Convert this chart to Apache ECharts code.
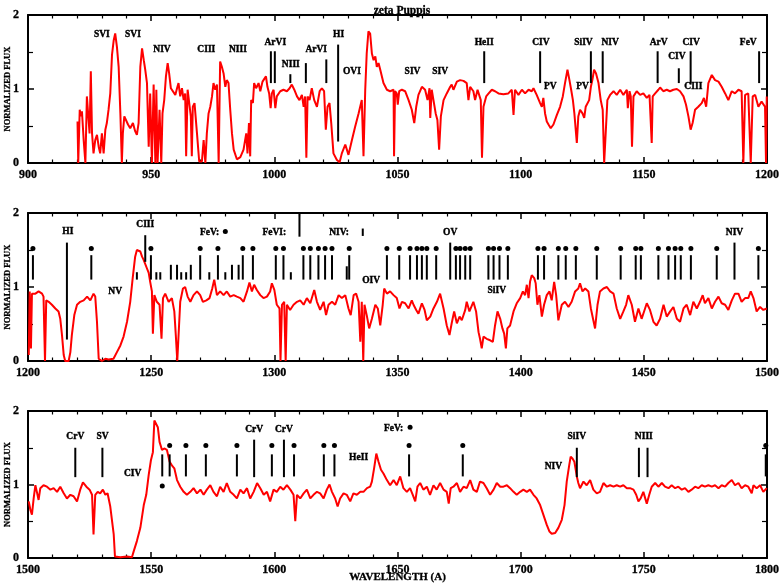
<!DOCTYPE html>
<html><head><meta charset="utf-8">
<script src="https://cdn.jsdelivr.net/npm/echarts@6/dist/echarts.min.js"></script>
<style>html,body{margin:0;padding:0;background:#fff}#c{width:780px;height:588px}</style>
</head><body><div id="c"></div>
<script>
// ---------- spectra: [wavelength (A), normalized flux] ----------
const spec1 = [[920.1,0.56],[920.4,0],[921.0,0.72],[921.5,0.63],[921.9,0.70],[922.6,0.31],[923.3,0],[923.9,0.90],[924.6,0.92],[925.0,0.40],[925.5,1.24],[926.0,0.40],[926.6,0.13],[927.3,0.31],[928.0,0.38],[928.7,0.22],[929.3,0.13],[930.0,0.40],[930.7,0.13],[931.4,0.45],[932.0,0.54],[932.7,0.72],[933.4,0.94],[934.1,1.46],[934.8,1.66],[935.4,1.75],[936.1,1.57],[936.8,1.30],[937.5,0.67],[938.1,0],[938.5,0.40],[939.1,0.63],[939.9,0.65],[940.6,0.52],[941.5,0.47],[942.6,0.54],[943.5,0.43],[944.2,0.38],[944.9,0.54],[945.6,1.30],[946.3,1.55],[947.0,1.39],[947.6,1.26],[948.3,1.08],[949.0,0.22],[949.6,0.94],[950.3,0],[951.0,1.06],[951.7,0],[952.1,0.99],[952.6,0],[953.4,0.72],[954.1,0],[954.6,0.67],[955.3,0.85],[956.0,1.17],[956.7,1.35],[957.3,1.21],[958.0,1.01],[958.8,0.99],[959.8,0.92],[960.5,1.01],[961.1,1.08],[961.8,0.90],[962.5,1.01],[963.2,0.85],[963.8,0.94],[964.2,0.09],[964.8,0.99],[965.6,1.01],[966.1,0.63],[966.5,0.09],[966.9,0.76],[967.6,0.81],[968.6,0.40],[969.5,0.02],[970.6,0.02],[971.3,0.31],[972.0,0],[972.6,0.40],[973.3,0.67],[974.0,0.76],[974.7,0.90],[975.3,1.08],[976.0,0.99],[976.7,1.06],[977.4,0],[978.0,1.37],[978.7,1.30],[979.4,1.21],[980.1,1.03],[980.7,1.12],[981.4,1.08],[982.1,0.72],[982.8,0.40],[983.5,0.18],[984.8,0.05],[986.2,0.08],[987.5,0.18],[988.6,0.40],[989.1,0.13],[989.7,0.54],[990.2,0.09],[990.6,0.85],[991.3,0.81],[991.8,1.08],[992.6,1.01],[993.6,1.08],[994.3,0.97],[995.2,1.10],[996.0,1.12],[996.6,1.17],[997.2,1.03],[997.9,0.94],[998.5,0.74],[999.0,0.94],[999.7,0.99],[1000.4,0.74],[1001.0,0.90],[1002.4,0.97],[1003.7,0.99],[1005.1,0.97],[1006.2,1.01],[1007.1,1.06],[1008.1,0.99],[1009.2,0.90],[1010.2,0.85],[1011.2,0.92],[1011.9,0.76],[1012.5,0.90],[1013.0,0.07],[1013.5,0.90],[1014.3,0.85],[1015.2,1.01],[1016.2,0.85],[1017.3,0.76],[1018.4,0.97],[1019.3,1.01],[1020.2,0.97],[1020.9,0.45],[1021.6,0.76],[1022.4,0.81],[1023.1,0.54],[1024.0,0.13],[1025.4,0.04],[1026.5,0.01],[1027.4,0.13],[1028.8,0.25],[1030.1,0.11],[1031.5,0.31],[1032.8,0.49],[1034.2,0.67],[1035.5,0.85],[1036.2,0.09],[1036.9,0.99],[1037.5,1.48],[1038.2,1.78],[1038.9,1.75],[1039.6,1.48],[1040.3,1.39],[1041.0,1.44],[1041.6,1.30],[1042.3,1.35],[1043.0,1.26],[1044.3,1.08],[1045.7,0.99],[1047.0,0.97],[1048.4,0.99],[1048.6,0.09],[1049.0,0.97],[1049.7,0.94],[1050.1,0.79],[1050.7,0.97],[1051.8,0.99],[1053.1,0.97],[1054.5,0.85],[1055.8,0.72],[1056.8,0.54],[1057.6,0.76],[1058.5,0.92],[1059.9,1.03],[1061.2,0.99],[1062.2,0.85],[1063.0,1.01],[1063.3,0.61],[1063.9,0.99],[1064.6,0.85],[1065.5,0.67],[1066.2,0.58],[1066.9,0.18],[1067.6,0.63],[1068.7,0.85],[1070.0,0.94],[1071.4,1.03],[1072.0,1.06],[1072.7,0.99],[1074.1,1.10],[1075.4,1.12],[1076.8,1.11],[1078.1,1.08],[1078.8,0.85],[1079.5,1.03],[1080.8,0.97],[1081.5,0.85],[1082.5,0.99],[1083.1,1.01],[1083.8,0.85],[1084.3,0.07],[1084.9,0.76],[1086.0,0.90],[1087.0,0.94],[1088.3,0.99],[1089.6,0.97],[1091.0,0.94],[1093.0,0.93],[1095.0,0.94],[1096.4,0.99],[1097.1,0.65],[1097.7,0.99],[1099.1,0.92],[1100.5,0.99],[1101.8,0.94],[1103.2,0.99],[1104.5,0.97],[1105.2,1.01],[1106.5,0.92],[1107.2,0.94],[1107.9,0.81],[1108.6,0.76],[1109.2,0.88],[1109.9,0.67],[1110.6,0.56],[1111.3,0.52],[1112.2,0.47],[1113.3,0.52],[1114.7,0.65],[1116.0,0.76],[1117.1,0.90],[1118.0,1.08],[1119.0,1.26],[1119.8,1.12],[1120.5,0.99],[1121.2,0.85],[1121.8,0.67],[1122.8,0.27],[1123.4,0.63],[1124.1,0.72],[1125.1,0.67],[1125.8,0.61],[1126.4,0.76],[1127.1,0.74],[1127.8,0.85],[1128.5,1.03],[1129.1,1.12],[1129.8,1.26],[1130.6,1.21],[1131.6,1.08],[1132.5,0.85],[1133.3,0.72],[1133.9,0],[1134.7,0],[1135.2,0.85],[1136.3,0.92],[1137.7,0.97],[1139.0,0.92],[1140.4,0.99],[1141.7,0.92],[1143.1,0.99],[1143.5,0.74],[1144.2,0.97],[1144.7,0.90],[1145.2,0.22],[1145.8,0.90],[1147.1,0.97],[1148.5,0.92],[1149.8,0.94],[1151.2,0.88],[1152.3,0.92],[1153.2,0.27],[1153.6,0.90],[1154.6,0.94],[1155.9,0.99],[1156.6,1.02],[1157.9,0.97],[1159.3,0.99],[1160.6,0.97],[1162.0,0.99],[1163.4,1.00],[1164.7,0.97],[1166.1,0.90],[1167.1,0.79],[1168.1,0.63],[1169.0,0.45],[1169.8,0.54],[1170.8,0.72],[1172.1,0.76],[1173.5,0.81],[1174.4,0.88],[1175.3,0.76],[1176.2,1.08],[1177.6,1.19],[1178.9,1.12],[1180.3,1.10],[1181.6,1.03],[1183.0,0.94],[1184.3,0.85],[1185.7,0.97],[1187.0,0.94],[1188.4,0.99],[1189.7,0.97],[1190.4,0],[1191.1,0.92],[1192.4,0.94],[1193.4,0],[1194.2,0.90],[1195.2,0.92],[1196.5,0.76],[1197.8,0.83],[1199.2,0.76],[1199.6,0],[1199.9,0.90]];

const spec2 = [[1200.3,0.08],[1200.7,0.94],[1201.2,0.17],[1201.6,0.91],[1203.0,0.91],[1204.3,0.94],[1205.7,0.91],[1206.3,0.87],[1206.9,0],[1207.4,0.82],[1208.4,0.80],[1209.7,0.76],[1211.1,0.71],[1212.4,0.67],[1213.1,0.57],[1213.8,0.35],[1214.5,0.08],[1215.1,0],[1216.5,0],[1217.2,0.12],[1217.8,0.35],[1218.8,0.62],[1219.9,0.76],[1221.2,0.80],[1222.6,0.82],[1224.0,0.87],[1225.3,0.82],[1226.6,0.91],[1227.3,0.87],[1228.0,0.53],[1228.7,0.03],[1230.0,0],[1231.4,0.03],[1232.7,0.02],[1234.7,0.03],[1236.1,0.12],[1237.5,0.21],[1238.8,0.33],[1240.2,0.53],[1241.5,0.80],[1242.5,1.12],[1243.5,1.41],[1244.2,1.50],[1245.6,1.48],[1246.3,1.41],[1246.9,1.37],[1248.3,1.25],[1249.0,1.19],[1249.6,1.07],[1250.3,0.94],[1250.7,0.37],[1251.3,0.89],[1252.3,0.80],[1253.4,0.76],[1254.2,0.30],[1254.8,0.85],[1255.7,0.91],[1257.1,0.80],[1258.4,0.85],[1259.4,0.67],[1260.0,0.35],[1260.6,0],[1261.1,0],[1261.8,0.80],[1262.9,0.98],[1263.8,1.00],[1264.8,0.87],[1265.9,0.80],[1267.2,0.89],[1268.6,0.94],[1269.9,0.89],[1271.0,0.80],[1272.4,0.82],[1273.7,0.85],[1274.8,0.98],[1275.6,1.10],[1276.7,0.89],[1278.0,0.94],[1279.4,0.89],[1280.7,0.94],[1282.1,0.87],[1283.5,0.89],[1284.8,0.87],[1286.2,0.85],[1287.5,0.80],[1288.9,0.94],[1289.9,1.06],[1290.9,0.94],[1291.8,1.03],[1292.9,0.96],[1294.3,0.89],[1295.6,0.85],[1297.0,0.87],[1298.3,0.94],[1299.0,1.05],[1300.0,0.96],[1301.0,0.76],[1302.1,0.71],[1302.5,0],[1303.1,0.76],[1304.0,0.80],[1304.6,0],[1305.1,0.76],[1306.4,0.69],[1307.8,0.76],[1309.2,0.80],[1310.5,0.82],[1311.9,0.76],[1313.2,0.85],[1314.6,0.78],[1316.2,0.96],[1317.3,0.80],[1318.6,0.69],[1320.0,0.80],[1321.0,0.62],[1322.0,0.76],[1323.4,0.80],[1324.7,0.76],[1326.1,0.89],[1327.4,0.85],[1328.8,0.89],[1330.1,0.71],[1331.0,0.62],[1332.2,0.89],[1333.2,0.91],[1334.2,0.80],[1334.9,0.26],[1335.5,0.80],[1336.1,0],[1336.6,0.76],[1337.5,0.62],[1338.5,0.44],[1339.6,0.57],[1341.0,0.76],[1342.0,0.71],[1343.0,0.48],[1344.0,0.76],[1344.6,0.98],[1345.7,0.91],[1347.0,0.94],[1348.4,0.89],[1349.7,0.85],[1350.8,0.71],[1351.8,0.80],[1353.1,0.78],[1354.5,0.71],[1355.8,0.82],[1356.5,0.76],[1357.6,0.69],[1358.5,0.64],[1359.9,0.78],[1361.0,0.69],[1361.9,0.55],[1363.3,0.60],[1364.6,0.71],[1366.0,0.80],[1367.3,0.91],[1368.7,0.71],[1370.0,0.48],[1371.1,0.35],[1372.0,0.51],[1373.0,0.67],[1374.1,0.51],[1375.2,0.60],[1376.1,0.55],[1377.5,0.69],[1378.1,0.80],[1379.2,0.67],[1380.8,0.80],[1381.9,0.67],[1382.9,0.39],[1383.5,0.30],[1384.2,0.17],[1384.9,0.33],[1386.2,0.30],[1387.6,0.28],[1388.7,0.26],[1389.6,0.48],[1390.6,0.67],[1391.7,0.57],[1392.6,0.44],[1393.3,0.37],[1394.0,0.17],[1394.6,0.44],[1395.7,0.48],[1397.1,0.67],[1398.4,0.78],[1399.8,0.85],[1400.9,0.94],[1401.8,0.89],[1402.5,1.03],[1403.2,0.85],[1403.8,1.07],[1404.5,1.16],[1405.5,1.12],[1406.1,1.05],[1406.8,0.76],[1407.6,0.89],[1408.6,0.60],[1409.5,0.76],[1410.6,0.89],[1411.7,0.94],[1412.6,0.82],[1413.6,1.07],[1414.4,0.89],[1415.3,0.55],[1416.7,0.76],[1418.0,0.80],[1419.4,0.73],[1420.7,0.80],[1422.1,0.94],[1423.4,0.98],[1424.1,1.05],[1425.1,0.94],[1426.2,0.98],[1427.5,0.94],[1428.5,0.71],[1429.5,0.55],[1430.2,0.44],[1431.2,0.76],[1432.2,0.94],[1433.6,0.98],[1435.0,1.00],[1436.3,0.94],[1437.7,0.91],[1439.0,0.71],[1440.4,0.57],[1441.7,0.67],[1442.8,0.76],[1443.7,0.89],[1445.1,0.76],[1446.4,0.53],[1447.8,0.71],[1449.1,0.57],[1450.5,0.71],[1451.2,0.78],[1452.5,0.69],[1453.9,0.53],[1455.2,0.48],[1456.6,0.57],[1458.0,0.76],[1459.3,0.60],[1460.7,0.67],[1462.0,0.73],[1463.4,0.57],[1464.7,0.53],[1466.1,0.71],[1467.4,0.76],[1468.8,0.62],[1470.1,0.80],[1471.5,0.71],[1472.8,0.80],[1473.9,0.89],[1474.8,0.78],[1476.2,0.85],[1477.6,0.71],[1478.9,0.80],[1480.3,0.87],[1481.6,0.78],[1483.0,0.76],[1484.3,0.69],[1485.7,0.82],[1487.0,0.91],[1488.4,0.91],[1489.7,0.80],[1491.1,0.85],[1492.4,0.85],[1493.4,0.94],[1494.5,0.85],[1495.8,0.67],[1497.2,0.73],[1498.5,0.69],[1499.9,0.71]];

const spec3 = [[1500.3,0.77],[1501.0,0.65],[1501.6,0.59],[1502.3,0.81],[1503.0,0.99],[1503.6,0.90],[1504.3,0.79],[1505.0,0.95],[1506.3,0.99],[1507.7,0.97],[1509.1,0.93],[1510.4,0.95],[1511.8,0.90],[1513.1,0.97],[1514.5,0.88],[1515.8,0.81],[1517.2,0.86],[1518.5,0.84],[1519.9,0.77],[1521.2,0.93],[1522.3,1.03],[1523.7,0.97],[1525.0,0.93],[1526.0,0.86],[1526.6,0.32],[1527.3,0.86],[1528.3,0.90],[1529.3,0.88],[1530.4,0.93],[1531.4,0.86],[1532.3,0.88],[1533.4,0.70],[1534.2,0.70],[1534.8,0.32],[1535.3,0.02],[1537.5,0.01],[1540.2,0.02],[1542.2,0.01],[1542.9,0.09],[1544.2,0.23],[1545.6,0.41],[1547.0,0.72],[1548.0,0.86],[1549.0,1.13],[1549.9,1.33],[1550.7,1.44],[1551.3,1.87],[1552.1,1.85],[1552.7,1.78],[1553.4,1.58],[1554.4,1.47],[1555.3,1.49],[1556.4,1.47],[1557.5,1.31],[1558.4,1.26],[1559.4,1.22],[1560.5,1.06],[1561.8,0.97],[1563.2,0.90],[1564.5,0.86],[1565.9,0.90],[1567.2,0.95],[1568.6,0.88],[1570.0,0.93],[1571.3,0.86],[1572.6,0.93],[1574.0,0.99],[1575.3,0.90],[1576.7,0.84],[1578.0,0.97],[1579.4,0.90],[1580.7,1.02],[1582.1,0.90],[1583.5,0.86],[1584.8,0.81],[1586.2,0.93],[1587.5,0.88],[1588.9,0.95],[1590.2,0.81],[1591.6,0.90],[1593.0,1.02],[1594.3,0.95],[1595.7,0.86],[1597.0,0.90],[1598.3,0.77],[1599.7,0.93],[1601.0,0.90],[1602.4,0.97],[1603.7,0.93],[1605.1,0.99],[1606.5,0.93],[1607.8,0.86],[1608.5,0.50],[1609.2,0.86],[1610.5,0.81],[1611.9,0.88],[1613.2,0.93],[1614.6,0.81],[1615.9,0.86],[1617.3,0.90],[1618.6,0.88],[1620.0,0.81],[1621.3,0.93],[1622.4,1.00],[1623.4,0.90],[1624.7,0.81],[1625.7,0.70],[1626.7,0.81],[1628.1,0.88],[1629.4,0.86],[1630.8,0.77],[1632.1,0.88],[1633.5,0.86],[1634.9,0.90],[1636.2,0.90],[1637.6,0.95],[1638.9,0.97],[1639.6,1.04],[1640.5,1.22],[1641.4,1.42],[1642.3,1.31],[1643.3,1.20],[1644.3,1.15],[1645.7,1.06],[1647.0,0.99],[1648.4,1.06],[1649.7,0.99],[1651.1,1.11],[1652.4,0.95],[1653.8,0.90],[1655.1,0.95],[1656.2,0.86],[1657.2,0.77],[1658.1,0.97],[1659.2,1.02],[1660.5,0.93],[1661.9,0.97],[1663.2,0.86],[1664.6,0.99],[1665.9,0.93],[1667.3,1.02],[1668.7,0.93],[1670.0,0.90],[1670.8,0.74],[1671.6,0.95],[1672.7,0.97],[1674.1,1.02],[1675.4,0.90],[1676.8,0.97],[1678.1,0.95],[1679.5,1.06],[1680.8,0.93],[1682.2,0.90],[1683.5,1.04],[1684.9,1.02],[1686.2,0.95],[1687.6,0.86],[1689.0,0.93],[1690.3,1.02],[1691.7,0.97],[1693.0,0.97],[1694.4,0.99],[1695.7,0.95],[1697.1,0.90],[1698.4,0.86],[1699.8,0.90],[1701.1,0.93],[1702.5,0.90],[1703.8,0.93],[1705.2,0.86],[1706.5,0.81],[1707.9,0.72],[1709.2,0.59],[1710.6,0.45],[1711.7,0.36],[1712.6,0.33],[1714.0,0.34],[1715.3,0.41],[1716.7,0.52],[1717.8,0.72],[1718.7,1.04],[1719.7,1.26],[1720.3,1.38],[1721.1,1.35],[1721.8,1.31],[1722.8,1.11],[1723.4,1.02],[1724.1,0.95],[1725.5,1.04],[1726.8,0.99],[1728.2,1.06],[1729.5,0.93],[1730.9,0.88],[1732.2,0.90],[1733.6,1.02],[1735.0,0.97],[1736.3,0.99],[1737.7,0.97],[1739.0,0.99],[1740.4,0.97],[1741.7,0.99],[1743.1,0.95],[1744.4,0.95],[1745.8,0.93],[1746.9,0.86],[1747.8,0.77],[1748.7,0.81],[1749.8,0.90],[1751.2,0.74],[1752.2,0.86],[1753.2,0.97],[1754.6,1.02],[1755.9,0.97],[1757.3,1.02],[1758.6,0.97],[1760.0,0.95],[1761.3,0.99],[1762.7,0.95],[1764.0,0.97],[1765.4,0.93],[1766.7,0.95],[1768.1,0.90],[1769.4,0.93],[1770.8,0.97],[1772.1,0.95],[1773.5,0.99],[1774.8,0.97],[1776.2,0.99],[1777.6,0.97],[1778.9,0.99],[1780.3,0.95],[1781.6,0.99],[1783.0,0.97],[1784.3,1.02],[1785.7,1.06],[1787.0,0.99],[1788.4,1.02],[1789.7,0.95],[1791.1,0.99],[1792.4,0.97],[1793.8,0.88],[1794.5,0.99],[1795.8,0.95],[1797.2,0.99],[1798.5,0.90],[1799.9,0.95]];

// ---------- line identifications ----------
// tick marks: [wavelength, flux at top, flux at bottom]
const ticks1 = [[998.6,1.51,1.08],[1000.2,1.51,1.08],[1006.5,1.20,1.08],[1012.8,1.35,1.08],[1021.1,1.40,1.08],[1025.9,1.60,0.29],[1085.2,1.51,1.08],[1107.9,1.51,1.08],[1128.5,1.51,1.08],[1133.3,1.51,1.08],[1155.6,1.51,1.08],[1164.2,1.28,1.08],[1169.0,1.51,1.06],[1196.8,1.51,1.08]];
// labels: [wavelength, flux, text]
const labels1 = [[930.0,1.74,'SVI'],[942.6,1.74,'SVI'],[954.4,1.53,'NIV'],[972.4,1.53,'CIII'],[985.2,1.53,'NIII'],[1000.4,1.63,'ArVI'],[1006.7,1.33,'NIII'],[1017.0,1.53,'ArVI'],[1026.1,1.74,'HI'],[1031.5,1.24,'OVI'],[1056.1,1.24,'SIV'],[1067.3,1.24,'SIV'],[1085.2,1.63,'HeII'],[1108.2,1.63,'CIV'],[1112.0,1.03,'PV'],[1125.1,1.03,'PV'],[1125.5,1.63,'SiIV'],[1136.3,1.63,'NIV'],[1156.0,1.63,'ArV'],[1163.4,1.44,'CIV'],[1169.2,1.63,'CIV'],[1170.1,1.03,'CIII'],[1192.4,1.63,'FeV']];
const dots1 = [];

// FeV lines (dot + tick) in panel 2
const feLines2 = [1202.0,1225.7,1249.9,1269.9,1277.1,1287.2,1291.3,1300.6,1303.7,1311.8,1314.6,1317.9,1320.6,1323.4,1330.4,1345.7,1350.7,1355.1,1357.9,1359.9,1361.9,1365.7,1373.7,1375.4,1377.5,1379.5,1386.9,1389.0,1391.4,1394.8,1407.0,1409.5,1415.3,1418.3,1422.4,1430.9,1440.6,1446.7,1448.8,1455.9,1460.0,1462.7,1465.0,1469.1,1479.6,1496.5];
const ticks2 = [[1215.8,1.60,0.29],[1247.6,1.70,1.34],[1310.2,2.00,1.68],[1335.9,1.79,1.69],[1371.4,1.60,1.10],[1486.8,1.60,1.10],
  [1244.2,1.20,1.10],[1252.1,1.20,1.10],[1253.7,1.20,1.10],[1258.0,1.30,1.10],[1260.5,1.30,1.10],[1262.2,1.20,1.10],[1264.2,1.20,1.10],[1266.1,1.30,1.10],[1273.6,1.20,1.10],[1280.1,1.20,1.10],[1282.8,1.30,1.10],[1285.5,1.30,1.10],[1306.7,1.20,1.10],[1329.4,1.28,1.10]]
  .concat(feLines2.map(w => [w,1.43,1.10]));
const labels2 = [[1216.2,1.75,'HI'],[1235.4,0.94,'NV'],[1247.6,1.85,'CIII'],[1273.7,1.74,'FeV:'],[1300.0,1.74,'FeVI:'],[1326.3,1.74,'NIV:'],[1339.3,1.09,'OIV'],[1371.4,1.74,'OV'],[1390.3,0.95,'SiIV'],[1486.8,1.74,'NIV']];
const dots2 = feLines2.map(w => [w,1.52]).concat([[1280.1,1.75]]);

// panel 3
const feLines3 = [1557.5,1564.1,1572.2,1584.8,1599.0,1608.0,1620.1,1624.4,1654.7,1676.5,1799.5];
const ticks3 = [[1519.2,1.50,1.10],[1530.2,1.50,1.10],[1554.5,1.41,1.11],[1591.8,1.61,1.10],[1603.9,1.61,1.10],[1722.8,1.50,1.10],[1748.0,1.50,1.10],[1751.5,1.50,1.10]]
  .concat(feLines3.map(w => [w,1.41,1.11]));
const labels3 = [[1519.2,1.65,'CrV'],[1530.3,1.65,'SV'],[1542.5,1.15,'CIV'],[1591.8,1.75,'CrV'],[1603.9,1.75,'CrV'],[1634.2,1.36,'HeII'],[1648.4,1.76,'FeV:'],[1713.3,1.25,'NIV'],[1722.8,1.65,'SiIV'],[1750.0,1.65,'NIII']];
const dots3 = feLines3.map(w => [w,1.53]).concat([[1554.5,0.98],[1655.1,1.78]]);

const xRanges = [[900,1200],[1200,1500],[1500,1800]];
const yTicks = [0,1,2];

const FONT = '"Liberation Serif", "DejaVu Serif", serif';
const panels = [
  {range:xRanges[0], spec:spec1, ticks:ticks1, labels:labels1, dots:dots1, top:15, height:148},
  {range:xRanges[1], spec:spec2, ticks:ticks2, labels:labels2, dots:dots2, top:213, height:148},
  {range:xRanges[2], spec:spec3, ticks:ticks3, labels:labels3, dots:dots3, top:411, height:147}
];

const chart = echarts.init(document.getElementById('c'), null, {renderer:'canvas'});
const grid = [], xAxis = [], yAxis = [], series = [];
const axLine = {show:true, onZero:false, lineStyle:{color:'#000', width:2}};
const axTick = {show:true, inside:true, length:6, lineStyle:{color:'#000', width:1.5}};
const labStyle = {color:'#000', fontFamily:FONT, fontWeight:'bold', fontSize:12,
  textBorderColor:'#000', textBorderWidth:0.3, formatter:v => String(v)};

panels.forEach((p, i) => {
  grid.push({left:28, right:13, top:p.top, height:p.height, containLabel:false, outerBoundsMode:'none'});
  const xb = {type:'value', gridIndex:i, min:p.range[0], max:p.range[1], interval:50, position:'bottom',
    axisLine:axLine, axisTick:axTick,
    minorTick:{show:true, splitNumber:5, length:3.5, lineStyle:{color:'#000', width:1.2}},
    splitLine:{show:false}, minorSplitLine:{show:false},
    axisLabel:Object.assign({margin:6}, labStyle)};
  if (i === 2) {
    Object.assign(xb, {name:'WAVELENGTH (A)', nameLocation:'middle', nameGap:14, nameMoveOverlap:false,
      nameTextStyle:{color:'#000', fontFamily:FONT, fontWeight:'bold', fontSize:11, textBorderColor:'#000', textBorderWidth:0.3}});
  }
  xAxis.push(xb);
  xAxis.push(Object.assign({}, xb, {position:'top', name:'', axisLabel:{show:false}}));
  const yl = {type:'value', gridIndex:i, min:yTicks[0], max:yTicks[yTicks.length-1], interval:1, position:'left',
    axisLine:axLine, axisTick:axTick,
    minorTick:{show:true, splitNumber:2, length:5, lineStyle:{color:'#000', width:1.2}},
    splitLine:{show:false}, minorSplitLine:{show:false},
    axisLabel:Object.assign({margin:9}, labStyle),
    name:'NORMALIZED FLUX', nameLocation:'middle', nameGap:16, nameRotate:90, nameMoveOverlap:false,
    nameTextStyle:{color:'#000', fontFamily:FONT, fontWeight:'bold', fontSize:8.5, textBorderColor:'#000', textBorderWidth:0.3}};
  yAxis.push(yl);
  yAxis.push(Object.assign({}, yl, {position:'right', name:'', axisLabel:{show:false}}));

  const xi = 2*i, yi = 2*i;
  series.push({type:'line', xAxisIndex:xi, yAxisIndex:yi, data:p.spec, showSymbol:false, symbol:'none',
    lineStyle:{color:'#ff0000', width:2}, silent:true, z:2, clip:true});
  series.push({type:'custom', xAxisIndex:xi, yAxisIndex:yi, data:p.ticks, silent:true, z:3,
    renderItem:(params, api) => {
      const a = api.coord([api.value(0), api.value(1)]);
      const b = api.coord([api.value(0), api.value(2)]);
      return {type:'line', shape:{x1:a[0], y1:a[1], x2:b[0], y2:b[1]}, style:{stroke:'#000', lineWidth:2}};
    }});
  series.push({type:'custom', xAxisIndex:xi, yAxisIndex:yi, data:p.labels.map(d => [d[0], d[1]]), silent:true, z:4,
    renderItem:(params, api) => {
      const c = api.coord([api.value(0), api.value(1)]);
      return {type:'text', x:c[0], y:c[1], style:{text:p.labels[params.dataIndex][2], fill:'#000',
        fontFamily:FONT, fontWeight:'bold', fontSize:9.5, stroke:'#000', lineWidth:0.4,
        align:'center', verticalAlign:'middle'}};
    }});
  if (p.dots.length) {
    series.push({type:'scatter', xAxisIndex:xi, yAxisIndex:yi, data:p.dots, symbol:'circle', symbolSize:5,
      itemStyle:{color:'#000', opacity:1}, silent:true, z:4, clip:false});
  }
});

chart.setOption({
  animation:false,
  backgroundColor:'#fff',
  title:{text:'zeta Puppis', left:397, top:0, textAlign:'center',
    textStyle:{color:'#000', fontFamily:FONT, fontWeight:'bold', fontSize:11.5, textBorderColor:'#000', textBorderWidth:0.3}},
  grid, xAxis, yAxis, series
});
</script>
</body></html>
